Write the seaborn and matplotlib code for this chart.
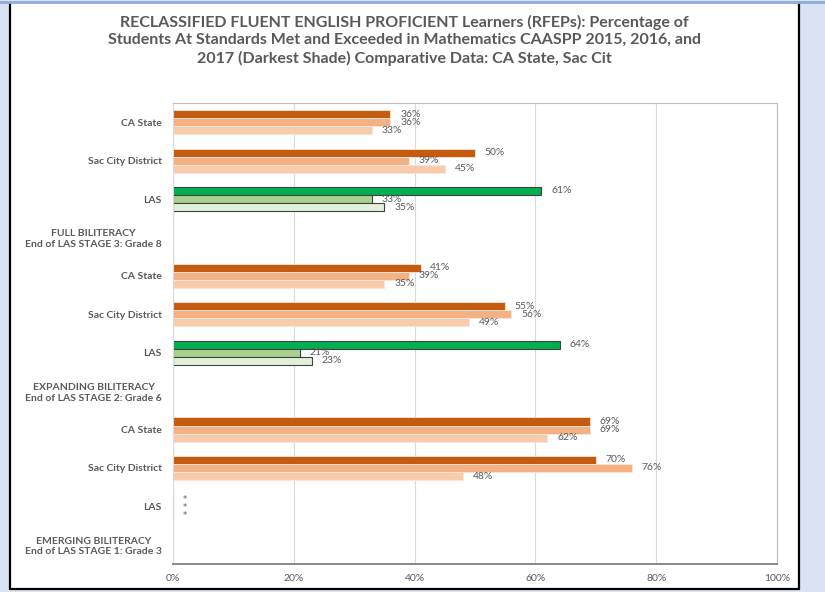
import numpy as np
import pandas as pd
import matplotlib
matplotlib.use("Agg")
import matplotlib.pyplot as plt
import seaborn as sns
from matplotlib.patches import Rectangle
from matplotlib.lines import Line2D

# ---------------- data ----------------
categories = [
    "CA State", "Sac City District", "LAS",
    "FULL BILITERACY\nEnd of LAS STAGE 3: Grade 8",
    "CA State", "Sac City District", "LAS",
    "EXPANDING BILITERACY\nEnd of LAS STAGE 2: Grade 6",
    "CA State", "Sac City District", "LAS",
    "EMERGING BILITERACY\nEnd of LAS STAGE 1: Grade 3",
]
is_header = [False, False, False, True,
             False, False, False, True,
             False, False, False, True]
is_las = [False, False, True, False,
          False, False, True, False,
          False, False, True, False]
years = ["2017", "2016", "2015"]          # darkest shade = 2017 (top bar)
y2017 = [36, 50, 61, None, 41, 55, 64, None, 69, 70, None, None]
y2016 = [36, 39, 33, None, 39, 56, 21, None, 69, 76, None, None]
y2015 = [33, 45, 35, None, 35, 49, 23, None, 62, 48, None, None]
suppressed_mark = "*"
xtick_vals = [0, 20, 40, 60, 80, 100]
xtick_labels = ["0%", "20%", "40%", "60%", "80%", "100%"]
title = ("RECLASSIFIED FLUENT ENGLISH PROFICIENT Learners (RFEPs): Percentage of\n"
         "Students At Standards Met and Exceeded in Mathematics CAASPP 2015, 2016, and\n"
         "2017 (Darkest Shade) Comparative Data: CA State, Sac Cit")

orange = ["#C55A11", "#F4B183", "#F8CBAD"]
green = ["#00B050", "#A9D18E", "#E2F0D9"]
grey_txt = "#595959"

# ---------------- table ----------------
keys = [f"c{i}" for i in range(len(categories))]
rows = []
series = {"2017": y2017, "2016": y2016, "2015": y2015}
for i, k in enumerate(keys):
    if is_header[i]:
        continue
    for yr in years:
        v = series[yr][i]
        rows.append({"key": k, "year": yr,
                     "value": 0 if v is None else v,
                     "label": suppressed_mark if v is None else f"{v}%"})
df = pd.DataFrame(rows)
label_map = {(keys.index(r.key), years.index(r.year)): r.label for r in df.itertuples()}

# ---------------- figure ----------------
sns.set_theme(style="white")
plt.rcParams["font.family"] = ["Lato", "DejaVu Sans"]

W, H = 825, 592
fig = plt.figure(figsize=(W / 100, H / 100), dpi=100)
fig.patch.set_facecolor("#DAE3F3")

# white chart area with borders
fig.add_artist(Rectangle((10 / W, 1 - 589 / H), (799 - 10) / W, (589 - 3) / H,
                         transform=fig.transFigure, facecolor="white",
                         edgecolor="none", zorder=0))
fig.add_artist(Line2D([10 / W, 10 / W], [1 - 589 / H, 1 - 3 / H],
                      transform=fig.transFigure, color="black", lw=1.6))
fig.add_artist(Line2D([799 / W, 799 / W], [1 - 589 / H, 1 - 3 / H],
                      transform=fig.transFigure, color="black", lw=1.6))
fig.add_artist(Line2D([10 / W, 799 / W], [1 - 589 / H, 1 - 589 / H],
                      transform=fig.transFigure, color="black", lw=1.6))
fig.add_artist(Line2D([0, 1], [1 - 2 / H, 1 - 2 / H],
                      transform=fig.transFigure, color="#8FAADC", lw=2))

ax = fig.add_axes([173 / W, 1 - 564 / H, (777 - 173) / W, (564 - 103) / H])
ax.set_facecolor("white")

sns.barplot(data=df, y="key", x="value", hue="year", hue_order=years,
            order=keys, orient="h", width=0.63, errorbar=None,
            saturation=1, legend=False, ax=ax)

bw = 0.63 / 3
for p in ax.patches:
    yc = p.get_y() + p.get_height() / 2
    ci = int(round(yc))
    hi = int(round((yc - ci) / bw)) + 1
    if is_las[ci]:
        p.set_facecolor(green[hi])
        p.set_edgecolor("#404040")
        p.set_linewidth(0.8)
    else:
        p.set_facecolor(orange[hi])
        p.set_edgecolor("#FBE5D6")
        p.set_linewidth(0.6)
    lab = label_map.get((ci, hi))
    if lab is not None:
        is_mark = lab == suppressed_mark
        ax.annotate(lab, xy=(p.get_width(), yc),
                    xytext=(7, -1 if is_mark else 0),
                    textcoords="offset points", ha="left", va="center",
                    fontsize=6 if is_mark else 7.5, color=grey_txt,
                    family=["DejaVu Sans"] if is_mark else None)

ax.set_xlim(0, 100)
ax.set_ylim(len(keys) - 0.5, -0.5)
ax.set_xticks(xtick_vals)
ax.set_xticklabels(xtick_labels, fontsize=7.5, color=grey_txt)
ax.set_yticks(range(len(keys)))
ax.set_yticklabels(categories, fontsize=7.5, fontweight="bold", color=grey_txt,
                   multialignment="center")
ax.tick_params(axis="y", length=0, pad=8)
ax.tick_params(axis="x", length=0, pad=7)
ax.set_xlabel("")
ax.set_ylabel("")
ax.xaxis.grid(True, color="#D9D9D9", lw=0.8)
ax.set_axisbelow(True)
for s in ["top", "left", "right"]:
    ax.spines[s].set_visible(True)
    ax.spines[s].set_color("#BFBFBF")
    ax.spines[s].set_linewidth(0.8)
ax.spines["left"].set_color("#D9D9D9")
ax.spines["bottom"].set_color("#808080")
ax.spines["bottom"].set_linewidth(1.3)

fig.text(404.5 / W, 1 - 40 / H, title, ha="center", va="center",
         fontsize=11.5, fontweight="bold", color=grey_txt, linespacing=1.3)

fig.savefig("out.png", dpi=100, facecolor=fig.get_facecolor())
